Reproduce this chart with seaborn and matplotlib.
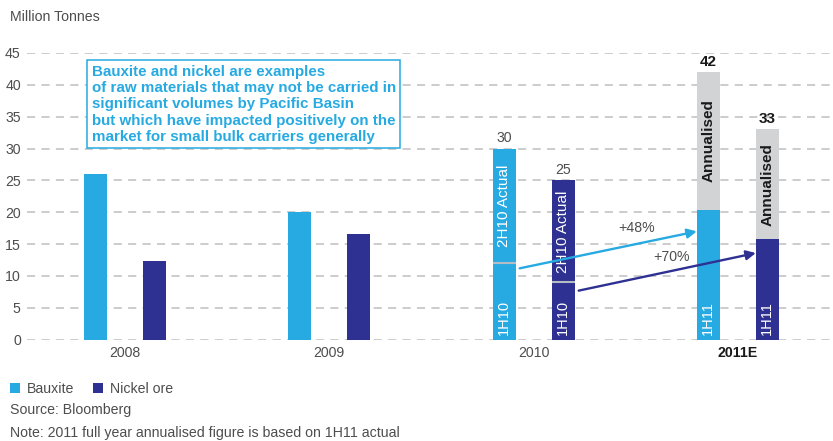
import matplotlib
matplotlib.use("Agg")
import matplotlib.pyplot as plt
from matplotlib.patches import Patch
import numpy as np
import pandas as pd
import seaborn as sns

# ---- data -------------------------------------------------------------
years = ["2008", "2009", "2010", "2011E"]
commodities = ["Bauxite", "Nickel ore"]
bauxite_full = [26.0, 20.0, 30.0, 42.0]      # full-year / annualised volume
nickel_full = [12.4, 16.6, 25.0, 33.0]
bauxite_first_half = [np.nan, np.nan, 12.0, 20.4]   # 1H10, 1H11
nickel_first_half = [np.nan, np.nan, 9.0, 15.8]
growth_labels = ["+48%", "+70%"]
arrow_start_y = [11.2, 7.7]
arrow_end_y = [17.0, 13.6]
yticks = list(range(0, 50, 5))

BLUE = "#27aae1"
NAVY = "#2e3192"
GREY = "#d1d3d4"
TEXT = "#4d4d4d"
FS = 10.2

sns.set_theme(style="white")
plt.rcParams["font.family"] = ["Liberation Sans", "DejaVu Sans"]

full = pd.DataFrame({
    "year": years * 2,
    "commodity": [commodities[0]] * 4 + [commodities[1]] * 4,
    "value": bauxite_full + nickel_full,
})
half = pd.DataFrame({
    "year": years * 2,
    "commodity": [commodities[0]] * 4 + [commodities[1]] * 4,
    "value": bauxite_first_half + nickel_first_half,
})

fig = plt.figure(figsize=(8.33, 4.41), dpi=100)
ax = fig.add_axes([27 / 833, 1 - 339.7 / 441, 806 / 833, (339.7 - 53) / 441])

palette = {commodities[0]: BLUE, commodities[1]: NAVY}
bar_kw = dict(x="year", y="value", hue="commodity", order=years,
              hue_order=commodities, palette=palette, width=0.578, gap=0.61,
              saturation=1, legend=False, ax=ax, zorder=2, linewidth=0)

sns.barplot(data=full, **bar_kw)
full_patches = list(ax.patches)
# patches come hue-major: bauxite years, then nickel years
bars_full = {(c, y): full_patches[i * 4 + j]
             for i, c in enumerate(commodities) for j, y in enumerate(years)}
for c in commodities:
    bars_full[(c, "2011E")].set_facecolor(GREY)

n_before = len(ax.patches)
sns.barplot(data=half.dropna(), **bar_kw)
half_patches = [p for p in ax.patches[n_before:]]
bars_half = {}
k = 0
for c in commodities:
    for y in ["2010", "2011E"]:
        bars_half[(c, y)] = half_patches[k]
        k += 1

ax.set_xlim(-0.48, 3.466)
ax.set_ylim(0, 45)
ax.set_yticks(yticks)
ax.set_xlabel("")
ax.set_ylabel("")
for s in ax.spines.values():
    s.set_visible(False)
ax.grid(False)
for v in yticks:
    ax.axhline(v, color="#c8c8c8", lw=1.3, ls=(0, (4.5, 3.5)), zorder=1)
ax.tick_params(axis="both", length=0, labelsize=FS, colors=TEXT, pad=4.5)
ax.set_xticks(range(len(years)))
ax.set_xticklabels(years)
for lab in ax.get_xticklabels():
    if lab.get_text() == "2011E":
        lab.set_fontweight("bold")
        lab.set_color("#1a1a1a")

# split line between halves in 2010
for c in commodities:
    p = bars_half[(c, "2010")]
    ax.plot([p.get_x(), p.get_x() + p.get_width()], [p.get_height()] * 2,
            color="#b4bcc4", lw=1.5, zorder=3, solid_capstyle="butt")

# labels inside / above the stacked bars
for c in commodities:
    for y, upper_txt, upper_col, upper_w in [
        ("2010", "2H10 Actual", "white", "normal"),
        ("2011E", "Annualised", "#1a1a1a", "bold"),
    ]:
        pf = bars_full[(c, y)]
        ph = bars_half[(c, y)]
        xc = pf.get_x() + pf.get_width() / 2
        lo, hi = ph.get_height(), pf.get_height()
        ax.text(xc, (lo + hi) / 2, upper_txt, rotation=90, ha="center",
                va="center", color=upper_col, fontsize=11,
                fontweight=upper_w, zorder=4)
        ax.text(xc, 0.7, "1H10" if y == "2010" else "1H11", rotation=90,
                ha="center", va="bottom", color="white", fontsize=10.5,
                zorder=4)
        ax.text(xc, hi + 0.5, f"{hi:g}", ha="center", va="bottom",
                fontsize=FS if y == "2010" else 11,
                fontweight="normal" if y == "2010" else "bold",
                color=TEXT if y == "2010" else "#1a1a1a", zorder=4)

# growth arrows from 2010 to 2011E
for c, col, y0, y1 in zip(commodities, [BLUE, NAVY], arrow_start_y,
                          arrow_end_y):
    p0 = bars_full[(c, "2010")]
    p1 = bars_full[(c, "2011E")]
    x0 = p0.get_x() + p0.get_width() + 0.02
    x1 = p1.get_x()
    ax.annotate("", xy=(x1, y1), xytext=(x0, y0),
                arrowprops=dict(arrowstyle="-|>", color=col, lw=1.7,
                                mutation_scale=14, shrinkA=0, shrinkB=0),
                zorder=5)
label_pos = [(2.505, 17.6), (2.676, 13.0)]
for lab, (lx, ly) in zip(growth_labels, label_pos):
    ax.text(lx, ly, lab, ha="center", va="center", fontsize=FS, color=TEXT,
            zorder=5)

# callout box
fig.text(91.5 / 833, 1 - 65 / 441,
         "Bauxite and nickel are examples\n"
         "of raw materials that may not be carried in\n"
         "significant volumes by Pacific Basin\n"
         "but which have impacted positively on the\n"
         "market for small bulk carriers generally",
         ha="left", va="top", fontsize=10.9, fontweight="bold", color=BLUE,
         linespacing=1.2, zorder=10,
         bbox=dict(boxstyle="square,pad=0.3", fc="white", ec=BLUE, lw=1.1))

fig.text(10 / 833, 1 - 17 / 441, "Million Tonnes", fontsize=FS, color=TEXT,
         ha="left", va="center")

handles = [Patch(facecolor=BLUE, edgecolor="none"),
           Patch(facecolor=NAVY, edgecolor="none")]
fig.legend(handles, commodities, loc="center left",
           bbox_to_anchor=(10 / 833, 1 - 389 / 441), ncol=2, frameon=False,
           fontsize=FS, handlelength=0.7, handleheight=0.7,
           handletextpad=0.5, columnspacing=1.3, labelcolor=TEXT,
           borderpad=0, borderaxespad=0)
fig.text(10 / 833, 1 - 410 / 441, "Source: Bloomberg", fontsize=FS,
         color=TEXT, ha="left", va="center")
fig.text(10 / 833, 1 - 433 / 441,
         "Note: 2011 full year annualised figure is based on 1H11 actual",
         fontsize=FS, color=TEXT, ha="left", va="center")

fig.savefig("out.png", dpi=100)
